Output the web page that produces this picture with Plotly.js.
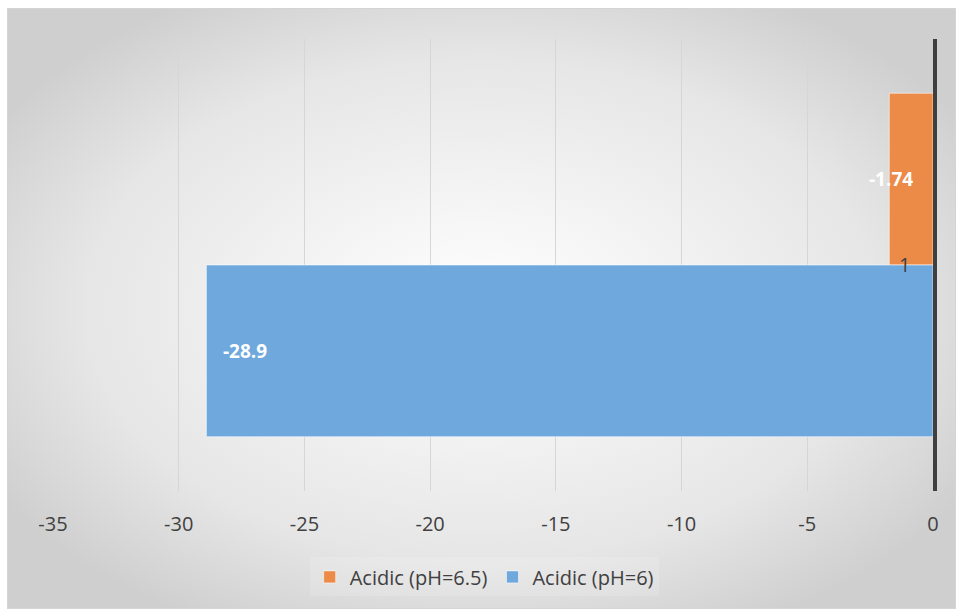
<!DOCTYPE html>
<html>
<head>
<meta charset="utf-8">
<script src="https://cdn.plot.ly/plotly-3.0.1.min.js"></script>
<style>
  html, body { margin: 0; padding: 0; background: #ffffff; }
  #frame {
    position: absolute; left: 7px; top: 8px; width: 947px; height: 599px;
    border: 1px solid #d4d4d4;
    background: radial-gradient(ellipse 60% 60% at 50% 50%, #ffffff 0%, #e6e6e6 70%, #cfcfcf 100%);
  }
  #chart { width: 947px; height: 599px; }
</style>
</head>
<body>
<div id="frame"><div id="chart"></div></div>
<script>
const categories = ['1'];
const seriesNames = ['Acidic (pH=6.5)', 'Acidic (pH=6)'];
const seriesValues = [[-1.74], [-28.9]];
const seriesLabels = ['-1.74', '-28.9'];
const seriesColors = ['#EC8A48', '#6FA8DC'];
const xTicks = [-35, -30, -25, -20, -15, -10, -5, 0];

const FONT = '"Open Sans", "Noto Sans", sans-serif';
const TEXT = '#404040';

const traces = seriesNames.map((name, i) => ({
  type: 'bar',
  orientation: 'h',
  name: name,
  y: categories,
  x: seriesValues[i],
  marker: { color: seriesColors[i], line: { color: 'rgba(255,255,255,0.55)', width: 1 } },
  hoverinfo: 'x+name'
}));

const bargap = 0.24;
const barW = (1 - bargap) / seriesNames.length;
const labelStyle = [
  { xanchor: 'center', xshift: 2 },
  { xanchor: 'left', xshift: 15 }
];
const annotations = [];
seriesNames.forEach((name, i) => {
  seriesValues[i].forEach((v, j) => {
    annotations.push({
      x: v, xref: 'x',
      y: j - (1 - bargap) / 2 + barW * (i + 0.5), yref: 'y',
      text: '<b>' + seriesLabels[i] + '</b>',
      showarrow: false,
      font: { family: FONT, size: 19, color: '#ffffff' },
      xanchor: labelStyle[i].xanchor, xshift: labelStyle[i].xshift, yanchor: 'middle'
    });
  });
});
// category labels next to the value axis (zero line)
categories.forEach((c, j) => {
  annotations.push({
    x: 0, xref: 'x', y: j, yref: 'y',
    text: c, showarrow: false,
    font: { family: FONT, size: 20, color: TEXT },
    xanchor: 'right', xshift: -21, yanchor: 'middle', yshift: 1
  });
});

const layout = {
  width: 947, height: 599,
  paper_bgcolor: 'rgba(0,0,0,0)',
  plot_bgcolor: 'rgba(0,0,0,0)',
  margin: { l: 45, r: 22, t: 30, b: 115 },
  barmode: 'group',
  bargap: bargap,
  bargroupgap: 0,
  showlegend: true,
  legend: {
    orientation: 'h', x: 0.49, xanchor: 'center', y: -0.19, yanchor: 'middle',
    font: { family: FONT, size: 20, color: TEXT },
    bgcolor: 'rgba(255,255,255,0.15)',
    traceorder: 'normal', itemwidth: 30
  },
  xaxis: {
    range: [-35, 0],
    tickvals: xTicks,
    ticktext: xTicks.map(String),
    showgrid: true, gridcolor: '#d6d6d6', gridwidth: 1,
    zeroline: false, showline: false, ticks: '',
    ticklabelstandoff: 19,
    tickfont: { family: FONT, size: 20, color: TEXT },
    fixedrange: true
  },
  yaxis: {
    type: 'category',
    range: [categories.length - 0.5, -0.5],
    autorange: false,
    side: 'right',
    showticklabels: false,
    showline: true, linecolor: '#3f3f3f', linewidth: 4,
    showgrid: false, zeroline: false, ticks: '',
    fixedrange: true
  },
  annotations: annotations
};

Plotly.newPlot('chart', traces, layout, { displayModeBar: false, staticPlot: true });
</script>
</body>
</html>
